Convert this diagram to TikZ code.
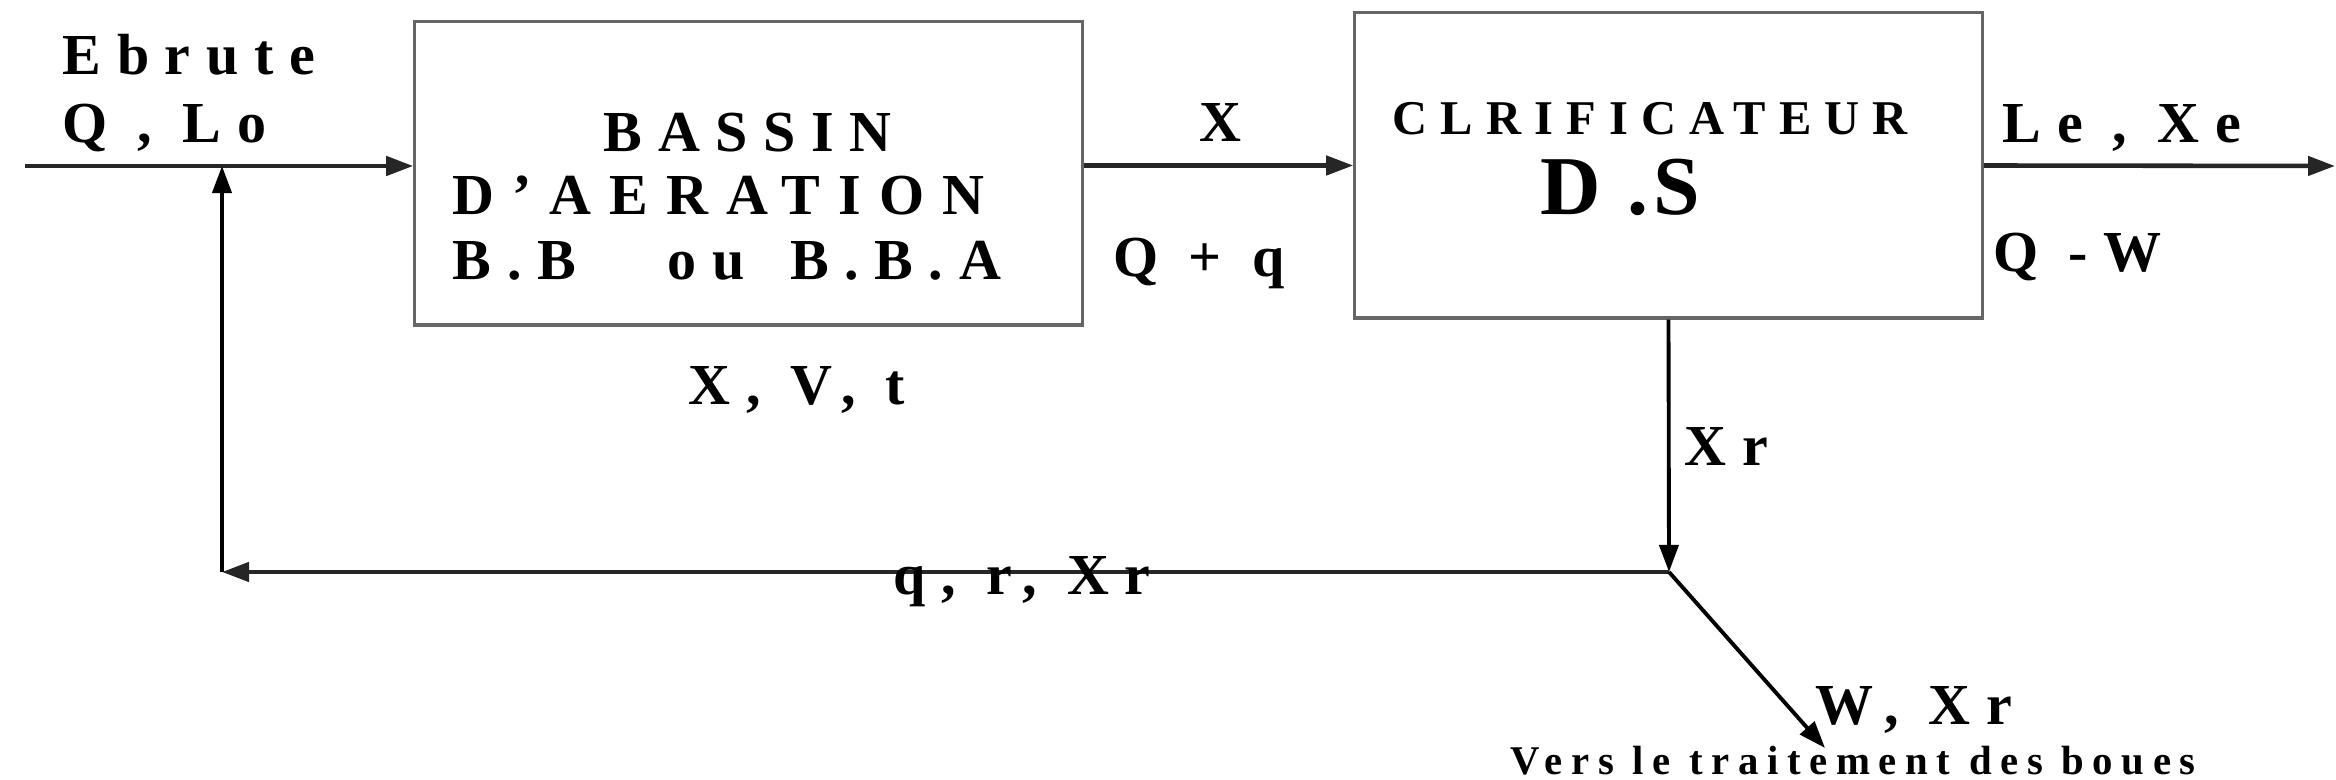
\documentclass[tikz,border=0pt]{standalone}
\usepackage{fontspec}
\setmainfont{Liberation Serif}
\usetikzlibrary{arrows.meta}
\colorlet{Trait}{black!85}
\colorlet{Cadre}{black!60}
\tikzset{
	boite/.style={draw=Cadre,line width=0.9pt,inner sep=0pt},
	fleche/.style={draw=Trait,line width=1.3pt,-{Triangle[length=2.7mm,width=1.9mm]}},
	lbl/.style={inner sep=0pt,anchor=base west,font=\fontsize{16.5}{19}\selectfont\bfseries\addfontfeature{LetterSpace=27}},
}
\begin{document}
\begin{tikzpicture}[x=0.01cm,y=-0.01cm]
	\useasboundingbox (0,0) rectangle (2336,780);
	% blocs
	\node[boite,minimum width=6.67cm,minimum height=3.03cm] (bassin) at (748.5,173.5) {};
	\node[boite,minimum width=6.27cm,minimum height=3.05cm] (clarif) at (1668.5,165.5) {};
	% points de passage
	\coordinate (entree) at (25,166);
	\coordinate (melange) at (222,166);
	\coordinate (sortie) at (2335,166);
	\coordinate (jonction) at (1669,572);
	\coordinate (retour) at (222,572);
	\coordinate (boues) at (1825,748);
	% liaisons
	\draw[fleche] (entree) -- (entree -| bassin.west);
	\draw[fleche] (bassin.east |- clarif.west) -- (clarif.west);
	\draw[fleche] (clarif.east) -- (sortie);
	\draw[fleche,draw=black,line width=1.1pt] (clarif.south) -- (jonction);
	\draw[fleche] (jonction) -- (retour);
	\draw[fleche,draw=black,line width=1.1pt] (retour) -- (melange);
	\draw[fleche,draw=black,line width=1.1pt] (jonction) -- (boues);
	% textes
	\node[lbl] (ebrute) at (62,75) {Ebrute};
	\node[lbl] (qlo) at (62,143) {Q , Lo};
	\node[lbl] (bas1) at (603,152) {BASSIN};
	\node[lbl,font=\fontsize{16.5}{19}\selectfont\bfseries\addfontfeature{LetterSpace=31}] (bas2) at (452,215) {D'AERATION};
	\node[lbl] (bas3) at (452,280) {B.B\hspace{26pt}ou\hspace{13pt}B.B.A};
	\node[lbl] (xvt) at (688,405) {X, V, t};
	\node[lbl,anchor=base] (x) at (1220,142) {X};
	\node[lbl] (qq) at (1113,277) {Q + q};
	\node[lbl,font=\fontsize{13.8}{16}\selectfont\bfseries\addfontfeature{LetterSpace=27}] (cl1) at (1392,135) {CLRIFICATEUR};
	\node[lbl,font=\fontsize{23.8}{28}\selectfont\bfseries\addfontfeature{LetterSpace=6}] (cl2) at (1540,215) {D .S};
	\node[lbl] (lexe) at (2002,143) {Le , Xe};
	\node[lbl] (qw) at (1993,272) {Q -W};
	\node[lbl] (xr) at (1684,466) {Xr};
	\node[lbl] (qrxr) at (893,595) {q, r, Xr};
	\node[lbl] (wxr) at (1815,725) {W, Xr};
	\node[lbl,font=\fontsize{11.6}{14}\selectfont\bfseries\addfontfeature{LetterSpace=21}] (vers) at (1510,775) {Vers le traitement des boues};
\end{tikzpicture}
\end{document}
